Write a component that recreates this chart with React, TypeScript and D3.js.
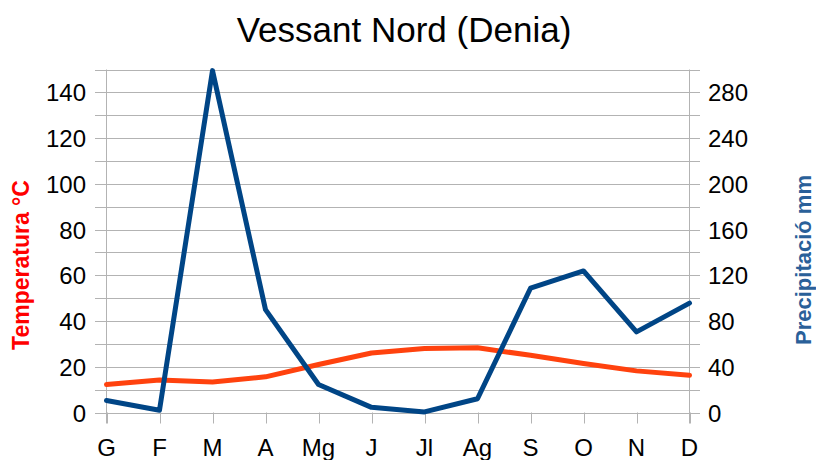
import React from "react";
import * as d3 from "d3";

const months = ["G", "F", "M", "A", "Mg", "J", "Jl", "Ag", "S", "O", "N", "D"];
const temperature = [12.2, 14.2, 13.3, 15.6, 21, 26, 28, 28.3, 25, 21.4, 18.2, 16.3];
const precipitation = [10.5, 2, 299, 90, 24.5, 4.5, 0.5, 12, 108.7, 123.8, 70.5, 95.7];
const leftTicks = [0, 20, 40, 60, 80, 100, 120, 140];
const rightTicks = [0, 40, 80, 120, 160, 200, 240, 280];
const gridValues = d3.range(0, 151, 10);

const W = 816;
const H = 460;
const left = 106.5;
const right = 689.5;
const top = 69.5;
const bottom = 412.5;

export default function App() {
  const x = d3.scalePoint<string>().domain(months).range([left, right]);
  const yL = d3.scaleLinear().domain([0, 150]).range([bottom, top]);
  const yR = d3.scaleLinear().domain([0, 300]).range([bottom, top]);
  const lineT = d3
    .line<number>()
    .x((_, i) => x(months[i]) as number)
    .y((d) => yL(d));
  const lineP = d3
    .line<number>()
    .x((_, i) => x(months[i]) as number)
    .y((d) => yR(d));
  const font = "'Liberation Sans', Arial, sans-serif";
  const grid = "#b3b3b3";
  return (
    <svg
      width={W}
      height={H}
      style={{ position: "absolute", left: 0, top: 0 }}
      fontFamily={font}
    >
      <rect width={W} height={H} fill="#fff" />
      <text x={404} y={42} textAnchor="middle" fontSize={35} fill="#000">
        Vessant Nord (Denia)
      </text>
      {gridValues.map((v) => (
        <line
          key={v}
          x1={95}
          x2={700}
          y1={Math.round(yL(v)) + 0.5}
          y2={Math.round(yL(v)) + 0.5}
          stroke={grid}
          strokeWidth={1}
        />
      ))}
      <line x1={left} x2={left} y1={top} y2={bottom + 11} stroke={grid} />
      <line x1={right} x2={right} y1={top} y2={bottom + 11} stroke={grid} />
      {months.map((m) => (
        <g key={m}>
          <line
            x1={Math.round(x(m) as number) + 0.5}
            x2={Math.round(x(m) as number) + 0.5}
            y1={bottom}
            y2={bottom + 11}
            stroke={grid}
          />
          <text
            x={x(m) as number}
            y={456}
            textAnchor="middle"
            fontSize={24}
            fill="#000"
          >
            {m}
          </text>
        </g>
      ))}
      {leftTicks.map((v) => (
        <text
          key={v}
          x={86}
          y={yL(v) + 9}
          textAnchor="end"
          fontSize={24}
          fill="#000"
        >
          {v}
        </text>
      ))}
      {rightTicks.map((v) => (
        <text
          key={v}
          x={708}
          y={yR(v) + 9}
          textAnchor="start"
          fontSize={24}
          fill="#000"
        >
          {v}
        </text>
      ))}
      <text
        transform="translate(29,265) rotate(-90)"
        textAnchor="middle"
        fontSize={23}
        fontWeight="bold"
        fill="#ff0000"
      >
        Temperatura °C
      </text>
      <text
        transform="translate(811,260) rotate(-90)"
        textAnchor="middle"
        fontSize={22}
        fontWeight="bold"
        fill="#2a6099"
      >
        Precipitació mm
      </text>
      <path
        d={lineT(temperature) || ""}
        fill="none"
        stroke="#ff420e"
        strokeWidth={5}
        strokeLinejoin="round"
        strokeLinecap="round"
      />
      <path
        d={lineP(precipitation) || ""}
        fill="none"
        stroke="#004586"
        strokeWidth={5}
        strokeLinejoin="round"
        strokeLinecap="round"
      />
    </svg>
  );
}
